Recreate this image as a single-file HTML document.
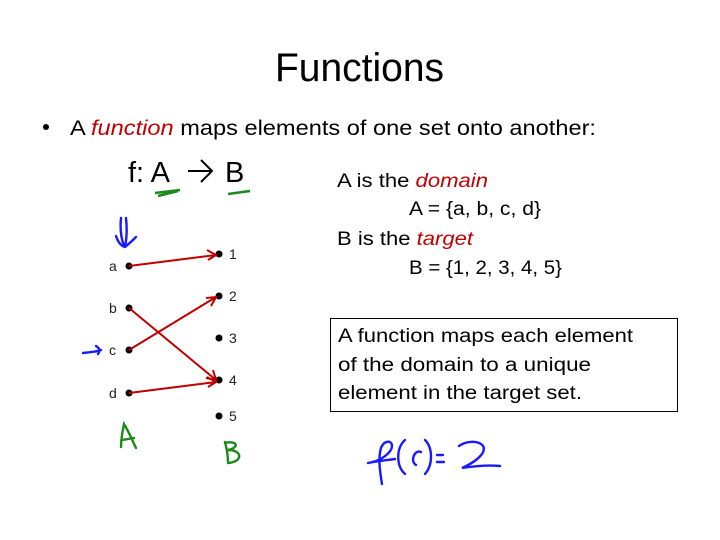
<!DOCTYPE html>
<html><head><meta charset="utf-8"><style>html,body{margin:0;padding:0;background:#fff}svg{display:block}text{font-family:"Liberation Sans",sans-serif}</style></head>
<body>
<svg width="720" height="540" viewBox="0 0 720 540" xmlns="http://www.w3.org/2000/svg">
<rect width="720" height="540" fill="#fff"/>
<text x="275" y="81" font-size="40" textLength="169" lengthAdjust="spacingAndGlyphs">Functions</text>
<circle cx="46" cy="127" r="3" fill="#000"/>
<text x="70" y="135" font-size="21" textLength="526" lengthAdjust="spacingAndGlyphs">A <tspan fill="#c00000" font-style="italic">function</tspan> maps elements of one set onto another:</text>
<text x="128" y="182" font-size="29">f: A</text>
<text x="225" y="182" font-size="29">B</text>
<path d="M188 171 L212 171 M201 160 L212 171 L201 182" stroke="#000" stroke-width="2" fill="none"/>
<path d="M155 193 L180 190 M158 196 L178 191" stroke="#1a8a1a" stroke-width="2.5" fill="none"/>
<path d="M228 194 L250 191" stroke="#1a8a1a" stroke-width="2.5" fill="none"/>
<g font-size="19">
<text x="337" y="187" textLength="151" lengthAdjust="spacingAndGlyphs">A is the <tspan fill="#c00000" font-style="italic">domain</tspan></text>
<text x="409" y="215" textLength="132" lengthAdjust="spacingAndGlyphs">A = {a, b, c, d}</text>
<text x="337" y="245" textLength="136" lengthAdjust="spacingAndGlyphs">B is the <tspan fill="#c00000" font-style="italic">target</tspan></text>
<text x="409" y="274" textLength="153" lengthAdjust="spacingAndGlyphs">B = {1, 2, 3, 4, 5}</text>
</g>
<rect x="330.5" y="318.5" width="347" height="93" fill="none" stroke="#000" stroke-width="1"/>
<g font-size="19">
<text x="338" y="342" textLength="295" lengthAdjust="spacingAndGlyphs">A function maps each element</text>
<text x="338" y="371" textLength="253" lengthAdjust="spacingAndGlyphs">of the domain to a unique</text>
<text x="338" y="399" textLength="244" lengthAdjust="spacingAndGlyphs">element in the target set.</text>
</g>
<g font-size="14" fill="#222">
<text x="109" y="271">a</text><text x="109" y="313">b</text><text x="109" y="355">c</text><text x="109" y="398">d</text>
<text x="229" y="259">1</text><text x="229" y="301">2</text><text x="229" y="343">3</text><text x="229" y="385">4</text><text x="229" y="421">5</text>
</g>
<g fill="#000">
<circle cx="129" cy="266" r="3.5"/><circle cx="129" cy="308" r="3.5"/><circle cx="129" cy="350" r="3.5"/><circle cx="129" cy="393" r="3.5"/>
<circle cx="219" cy="254" r="3.5"/><circle cx="219" cy="296" r="3.5"/><circle cx="219" cy="338" r="3.5"/><circle cx="219" cy="380" r="3.5"/><circle cx="219" cy="416" r="3.5"/>
</g>
<g stroke="#c00000" stroke-width="2" fill="none">
<path d="M129 266 L216 255 M207 250 L216 255 L208 260"/>
<path d="M129 308 L216 380 M206 378 L216 380 L213 370"/>
<path d="M129 350 L216 297 M206 298 L216 297 L211 306"/>
<path d="M129 393 L216 382 M207 377 L216 382 L208 387"/>
</g>
<g stroke="#1a1aff" stroke-width="2.4" fill="none" stroke-linecap="round">
<path d="M121 218 C120 228 121 238 124 246 M126 218 C127 228 127 238 125 246 M116 236 C118 242 121 246 125 247 C130 243 134 239 136 237"/>
<path d="M83 353 C90 352 96 352 101 350 M96 346 C99 348 101 350 98 354"/>
<path d="M372 462 C382 460 392 452 392 446 C392 440 384 440 381 448 C378 458 380 472 382 484 M368 463 C378 461 388 460 395 459 M405 440 C396 448 396 466 405 474 M421 452 C414 449 410 462 416 465 M425 440 C433 448 433 465 425 474 M437 455 L443 455 M437 462 L444 462 M459 446 C470 438 490 442 482 454 C476 462 466 466 462 468 C475 466 490 465 500 466"/>
</g>
<g stroke="#1a8a1a" stroke-width="2.4" fill="none" stroke-linecap="round">
<path d="M121 447 C121 438 123 429 124 424 C129 432 133 442 136 448 M122 440 L134 438"/>
<path d="M225 442 C227 450 228 456 228 462 M225 443 C236 440 241 447 228 450 C243 450 243 462 228 463"/>
</g>
</svg>
</body></html>
